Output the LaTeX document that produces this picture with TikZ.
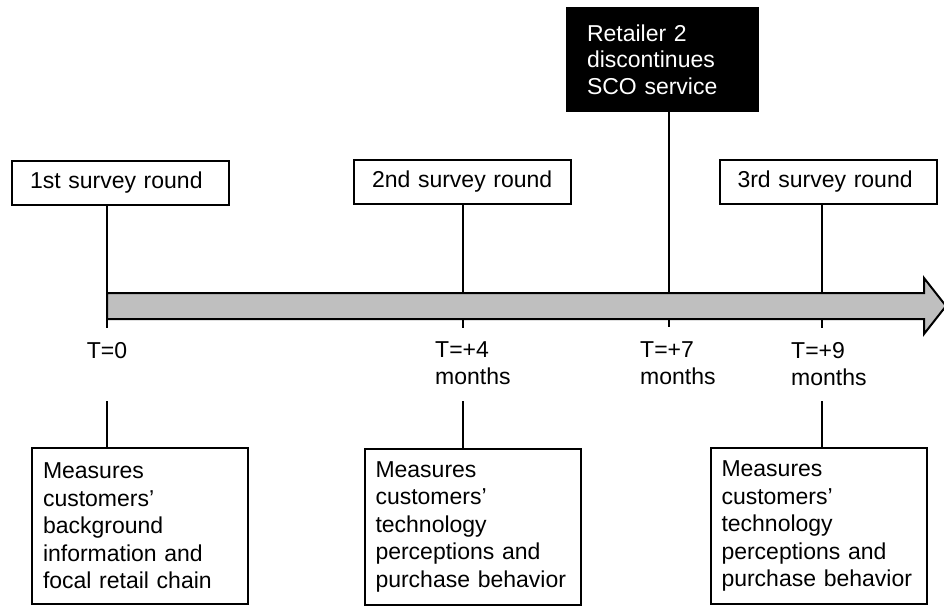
\documentclass[tikz,border=0pt]{standalone}
\usepackage{fontspec}
\setmainfont{Liberation Sans}
\usepackage{tikz}
\newcommand{\dropTo}[2]{\draw (#2 |- #1.south) to (#2)}
\newcommand{\riseFrom}[2]{\draw (#1) to (#1 |- #2.north)}

\begin{document}
\begin{tikzpicture}[x=1pt,y=-1pt,
		every node/.style={font=\fontsize{23}{27.5}\selectfont},
		roundbox/.style={draw,line width=2pt,minimum width=217pt,minimum height=44pt,
			text width=181pt,inner xsep=18pt,inner ysep=0pt,align=left},
		measurebox/.style={draw,line width=2pt,minimum width=216pt,minimum height=156pt,
			text width=194pt,inner xsep=11pt,inner ysep=0pt,align=left},
		eventbox/.style={draw,fill=black,text=white,line width=2pt,minimum width=191pt,
			minimum height=103pt,text width=151pt,inner xsep=20pt,inner ysep=0pt,
			align=left,font=\fontsize{23}{26.5}\selectfont},
		timelabel/.style={inner sep=0pt,text width=85pt,align=left,anchor=base west}]
	\useasboundingbox (0,0) rectangle (944,607);

	\node[roundbox] (s1) at (120.5,183) {1st survey round};
	\node[roundbox] (s2) at (462.5,182) {2nd survey round};
	\node[roundbox] (s3) at (828,182) {3rd survey round};
	\node[eventbox] (ev) at (662.5,59.5) {Retailer 2\\discontinues\\SCO service};

	\node[measurebox] (m1) at (140,526) {Measures\\customers’\\background\\information and\\focal retail chain};
	\node[measurebox] (m2) at (472.5,526.5) {Measures\\customers’\\technology\\perceptions and\\purchase behavior};
	\node[measurebox] (m3) at (818.5,526) {Measures\\customers’\\technology\\perceptions and\\purchase behavior};

	\node[inner sep=0pt,anchor=base] (t1) at (107,358) {T=0};
	\node[timelabel] (t2) at (435,357) {T=+4\\months};
	\node[timelabel] (t3) at (640,357) {T=+7\\months};
	\node[timelabel] (t4) at (791,358) {T=+9\\months};

	\coordinate (k1) at (107,328);
	\coordinate (k2) at (463,328);
	\coordinate (k3) at (669,327);
	\coordinate (k4) at (822,328);
	\coordinate (u1) at (107,401);
	\coordinate (u2) at (463,401);
	\coordinate (u4) at (822,401);

	\begin{scope}[line width=2pt]
		\dropTo{s1}{k1};
		\dropTo{s2}{k2};
		\dropTo{ev}{k3};
		\dropTo{s3}{k4};
		\riseFrom{u1}{m1};
		\riseFrom{u2}{m2};
		\riseFrom{u4}{m3};
	\end{scope}

	\draw[line width=2pt,fill=black!25,line join=miter]
		(107,293) -- (924,293) -- (924,278) -- (946,306) -- (924,334)
		-- (924,319) -- (107,319) -- cycle;
\end{tikzpicture}
\end{document}
